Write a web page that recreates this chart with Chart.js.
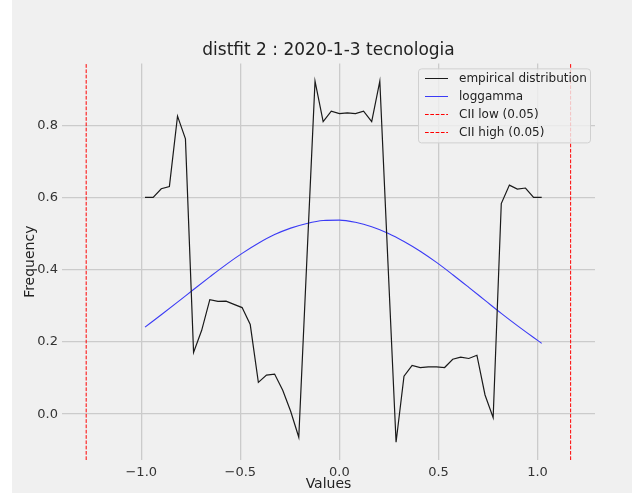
<!DOCTYPE html>
<html>
<head>
<meta charset="utf-8">
<script src="https://cdn.jsdelivr.net/npm/chart.js@4.4.1/dist/chart.umd.min.js"></script>
<style>
  html, body { margin: 0; padding: 0; background: #fff; }
  #wrap { position: absolute; left: 12px; top: 0; width: 620px; height: 493px; background: #f0f0f0; }
</style>
</head>
<body>
<div id="wrap">
  <canvas id="chart" width="620" height="493"></canvas>
</div>
<script>
// values
const xValues = [
  -0.981, -0.940, -0.899, -0.858, -0.817, -0.777, -0.736, -0.695, -0.654, -0.613,
  -0.572, -0.532, -0.491, -0.450, -0.409, -0.368, -0.327, -0.286, -0.246, -0.205,
  -0.164, -0.123, -0.082, -0.041, 0.000, 0.040, 0.081, 0.122, 0.163, 0.204,
  0.245, 0.286, 0.326, 0.367, 0.408, 0.449, 0.490, 0.531, 0.572, 0.612,
  0.653, 0.694, 0.735, 0.776, 0.817, 0.858, 0.898, 0.939, 0.980, 1.021,
];
const empirical = [
  0.600, 0.600, 0.624, 0.630, 0.825, 0.762, 0.171, 0.232, 0.317, 0.312,
  0.313, 0.304, 0.295, 0.248, 0.088, 0.108, 0.111, 0.066, 0.008, -0.064,
  0.430, 0.922, 0.810, 0.839, 0.832, 0.834, 0.832, 0.839, 0.810, 0.922,
  0.420, -0.078, 0.105, 0.135, 0.129, 0.131, 0.131, 0.129, 0.152, 0.158,
  0.154, 0.163, 0.053, -0.010, 0.583, 0.634, 0.623, 0.626, 0.600, 0.600,
];
const fitX = [
  -0.981, -0.899, -0.817, -0.736, -0.654, -0.572, -0.491, -0.409, -0.327, -0.246,
  -0.164, -0.082, 0.000, 0.081, 0.163, 0.245, 0.326, 0.408, 0.490, 0.572,
  0.653, 0.735, 0.817, 0.898, 0.980, 1.021,
];
const loggamma = [
  0.241, 0.275, 0.310, 0.345, 0.380, 0.414, 0.445, 0.473, 0.497, 0.515,
  0.528, 0.536, 0.537, 0.531, 0.519, 0.501, 0.478, 0.451, 0.420, 0.386,
  0.351, 0.315, 0.279, 0.245, 0.212, 0.196,
];
const ciiLow = -1.278;
const ciiHigh = 1.167;
const xTicks = [-1.0, -0.5, 0.0, 0.5, 1.0];
const yTicks = [0.0, 0.2, 0.4, 0.6, 0.8];
const xRange = [-1.40, 1.29];
const yRange = [-0.127, 0.971];

const font = 'DejaVu Sans';
const fmt = (v) => (v < 0 ? '\u2212' : '') + Math.abs(v).toFixed(1);
const dash = [3.7, 1.6];

function vline(x) {
  return [{ x, y: yRange[0] }, { x, y: yRange[1] }];
}

// matplotlib-like legend box in the upper right of the plot
const boxLegend = {
  id: 'boxLegend',
  afterDraw(chart) {
    const ctx = chart.ctx;
    const right = chart.chartArea.right - 5;
    const top = chart.chartArea.top + 5;
    const w = 172;
    const h = 74;
    const left = right - w;

    ctx.save();
    ctx.beginPath();
    ctx.roundRect(left + 0.5, top + 0.5, w, h, 3);
    ctx.fillStyle = 'rgba(240, 240, 240, 0.8)';
    ctx.fill();
    ctx.strokeStyle = '#d0d0d0';
    ctx.lineWidth = 1;
    ctx.stroke();

    ctx.font = `12px '${font}'`;
    ctx.textBaseline = 'middle';
    chart.data.datasets.forEach((ds, i) => {
      const y = Math.round(top + 9.5 + i * 18) + 0.5;
      ctx.beginPath();
      ctx.setLineDash(ds.borderDash || []);
      ctx.strokeStyle = ds.borderColor;
      ctx.lineWidth = 1;
      ctx.moveTo(left + 7, y);
      ctx.lineTo(left + 30, y);
      ctx.stroke();
      ctx.setLineDash([]);
      ctx.fillStyle = '#222';
      ctx.fillText(ds.label, left + 41, y);
    });
    ctx.restore();
  },
};

new Chart(document.getElementById('chart'), {
  type: 'scatter',
  data: {
    datasets: [
      {
        label: 'empirical distribution',
        data: xValues.map((x, i) => ({ x, y: empirical[i] })),
        showLine: true,
        borderColor: '#1a1a1a',
        borderWidth: 1.2,
        pointRadius: 0,
      },
      {
        label: 'loggamma',
        data: fitX.map((x, i) => ({ x, y: loggamma[i] })),
        showLine: true,
        borderColor: '#3b3bf5',
        borderWidth: 1.1,
        pointRadius: 0,
        cubicInterpolationMode: 'monotone',
      },
      {
        label: 'CII low (0.05)',
        data: vline(ciiLow),
        showLine: true,
        borderColor: '#f00',
        borderWidth: 1,
        borderDash: dash,
        pointRadius: 0,
      },
      {
        label: 'CII high (0.05)',
        data: vline(ciiHigh),
        showLine: true,
        borderColor: '#f00',
        borderWidth: 1,
        borderDash: dash,
        pointRadius: 0,
      },
    ],
  },
  plugins: [boxLegend],
  options: {
    responsive: false,
    animation: false,
    devicePixelRatio: 1,
    layout: { padding: { left: 0, right: 37, top: 0, bottom: 0 } },
    plugins: {
      legend: { display: false },
      tooltip: { enabled: false },
      title: {
        display: true,
        text: 'distfit 2 : 2020-1-3 tecnologia',
        fullSize: false,
        color: '#222',
        font: { family: font, size: 17, weight: 'normal' },
        padding: { top: 40, bottom: 3 },
      },
    },
    scales: {
      x: {
        type: 'linear',
        min: xRange[0],
        max: xRange[1],
        afterBuildTicks: (s) => { s.ticks = xTicks.map((v) => ({ value: v })); },
        afterFit: (s) => { s.height = 33; },
        ticks: { callback: fmt, color: '#333', padding: 5, maxRotation: 0, font: { family: font, size: 13 } },
        grid: { color: '#cbcbcb', lineWidth: 1.3, drawTicks: false },
        border: { display: false },
        title: { display: true, text: 'Values', color: '#222', font: { family: font, size: 14 }, padding: { top: 0, bottom: 0 } },
      },
      y: {
        type: 'linear',
        min: yRange[0],
        max: yRange[1],
        afterBuildTicks: (s) => { s.ticks = yTicks.map((v) => ({ value: v })); },
        afterFit: (s) => { s.width = 50; },
        ticks: { callback: fmt, color: '#333', padding: 4, font: { family: font, size: 13 } },
        grid: { color: '#cbcbcb', lineWidth: 1.3, drawTicks: false },
        border: { display: false },
        title: { display: true, text: 'Frequency', color: '#222', font: { family: font, size: 14 }, padding: { top: 10, bottom: 0 } },
      },
    },
  },
});
</script>
</body>
</html>
